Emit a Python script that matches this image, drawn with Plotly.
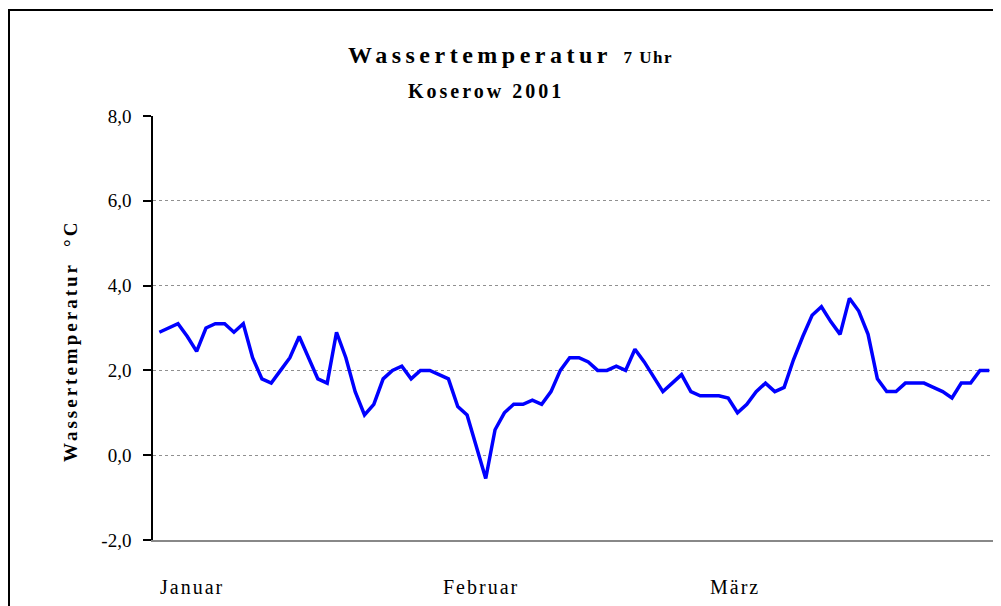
import plotly.graph_objects as go

# Daily water temperature at 7:00, Koserow, 1 Jan - 31 Mar 2001 (°C)
temperature = [
    2.9, 3.0, 3.1, 2.8, 2.45, 3.0, 3.1, 3.1, 2.9, 3.1,
    2.3, 1.8, 1.7, 2.0, 2.3, 2.8, 2.3, 1.8, 1.7, 2.9,
    2.3, 1.5, 0.95, 1.2, 1.8, 2.0, 2.1, 1.8, 2.0, 2.0,
    1.9, 1.8, 1.15, 0.95, 0.2, -0.55, 0.6, 1.0, 1.2, 1.2,
    1.3, 1.2, 1.5, 2.0, 2.3, 2.3, 2.2, 2.0, 2.0, 2.1,
    2.0, 2.5, 2.2, 1.85, 1.5, 1.7, 1.9, 1.5, 1.4, 1.4,
    1.4, 1.35, 1.0, 1.2, 1.5, 1.7, 1.5, 1.6, 2.25, 2.8,
    3.3, 3.5, 3.15, 2.85, 3.7, 3.4, 2.85, 1.8, 1.5, 1.5,
    1.7, 1.7, 1.7, 1.6, 1.5, 1.35, 1.7, 1.7, 2.0, 2.0,
]
day_index = list(range(len(temperature)))

month_labels = ["Januar", "Februar", "März"]
month_label_x = [-0.15, 30.2, 58.8]

y_tickvals = [-2, 0, 2, 4, 6, 8]
y_ticktext = ["-2,0", "0,0", "2,0", "4,0", "6,0", "8,0"]

SERIF = "Liberation Serif, Times New Roman, serif"

fig = go.Figure()
fig.add_trace(go.Scatter(
    x=day_index, y=temperature, mode="lines",
    line=dict(color="#0000FF", width=3.5),
    showlegend=False, hoverinfo="skip",
))

# the page body has an 8px margin; figure sized to fit the 1001x606 window
fig.update_layout(
    width=993, height=598,
    margin=dict(l=145, r=5, t=108, b=66),
    paper_bgcolor="white", plot_bgcolor="white",
    font=dict(family=SERIF, color="black"),
    xaxis=dict(
        range=[-0.68, 89.72], showticklabels=False, ticks="",
        showgrid=False, zeroline=False,
        showline=True, linecolor="#888888", linewidth=2,
    ),
    yaxis=dict(
        range=[-2, 8], tickvals=y_tickvals, ticktext=y_ticktext,
        ticks="outside", ticklen=8, tickwidth=1.5, tickcolor="black",
        ticklabelstandoff=8,
        tickfont=dict(family=SERIF, size=19, color="black"),
        showline=True, linecolor="black", linewidth=1.5,
        showgrid=True, gridcolor="#909090", gridwidth=1, griddash="dot",
        zeroline=False,
    ),
)

# plot area right border
fig.add_shape(type="line", xref="paper", yref="paper", x0=1, x1=1, y0=0, y1=1,
              line=dict(color="#888888", width=2))
# outer chart frame
fig.add_shape(type="rect", xref="paper", yref="paper",
              x0=(9 - 153) / 843, x1=(1010 - 153) / 843,
              y0=(540 - 620) / 424, y1=(540 - 10) / 424,
              line=dict(color="black", width=2), layer="below")

# titles
fig.add_annotation(
    xref="paper", yref="paper", x=(510 - 153) / 843, y=(540 - 55) / 424,
    text='<b><span style="letter-spacing:4.5px">Wassertemperatur</span>'
         '<span style="font-size:17px;letter-spacing:1.5px">  7 Uhr</span></b>',
    showarrow=False, font=dict(family=SERIF, size=24, color="black"),
    xanchor="center", yanchor="middle",
)
fig.add_annotation(
    xref="paper", yref="paper", x=(486 - 153) / 843, y=(540 - 91) / 424,
    text='<b><span style="letter-spacing:3px">Koserow 2001</span></b>',
    showarrow=False, font=dict(family=SERIF, size=20, color="black"),
    xanchor="center", yanchor="middle",
)
fig.add_annotation(
    xref="paper", yref="paper", x=(70 - 153) / 843, y=(540 - 341) / 424,
    text='<b><span style="letter-spacing:3px">Wassertemperatur  °C</span></b>',
    showarrow=False, textangle=-90, font=dict(family=SERIF, size=19, color="black"),
    xanchor="center", yanchor="middle",
)

for label, xpos in zip(month_labels, month_label_x):
    fig.add_annotation(
        xref="x", yref="paper", x=xpos, y=(540 - 587) / 424,
        text=f'<span style="letter-spacing:2px">{label}</span>',
        showarrow=False, font=dict(family=SERIF, size=20, color="black"),
        xanchor="left", yanchor="middle",
    )

fig.write_html("out.html")
